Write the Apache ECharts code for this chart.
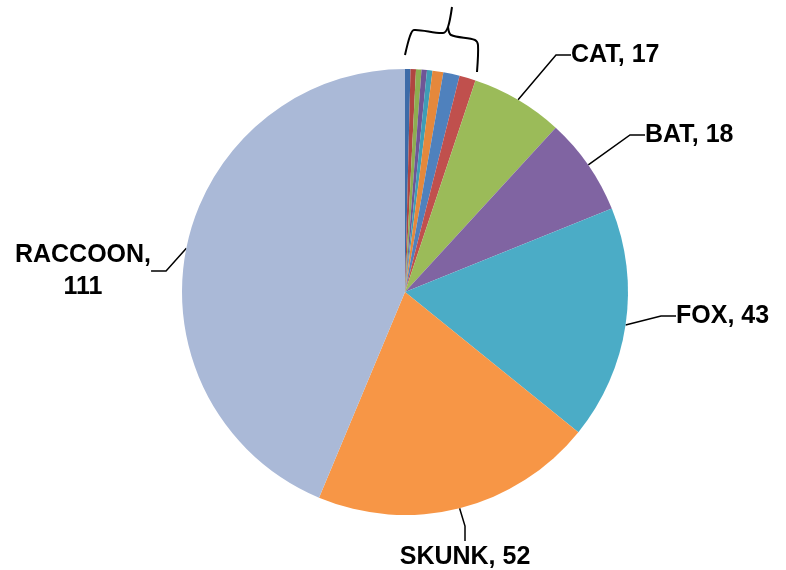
<!DOCTYPE html>
<html><head><meta charset="utf-8">
<script src="https://cdn.jsdelivr.net/npm/echarts@6/dist/echarts.min.js"></script>
<style>html,body{margin:0;padding:0;background:#fff}#c{width:786px;height:570px}</style>
</head><body><div id="c"></div>
<script>
const categories = ['Other 1','Other 2','Other 3','Other 4','Other 5','Other 6','Other 7','Other 8','CAT','BAT','FOX','SKUNK','RACCOON'];
const values = [1,1,1,1,1,2,3,3,17,18,43,52,111];
const colors = ['#3D6BA8','#B04540','#8DAE50','#6F5596','#3F9DB6','#E5883C','#4F81BD','#C0504D','#9BBB59','#8064A2','#4BACC6','#F79646','#AAB9D7'];
const labeled = ['CAT','BAT','FOX','SKUNK','RACCOON'];

const labelPos = {
  CAT: {x: 571, y: 55, align: 'left'},
  BAT: {x: 645, y: 135, align: 'left'},
  FOX: {x: 676, y: 316, align: 'left'},
  SKUNK: {x: 465, y: 557, align: 'center'},
  RACCOON: {x: 83, y: 271, align: 'center'}
};

const chart = echarts.init(document.getElementById('c'), null, {renderer: 'canvas'});
chart.setOption({
  animation: false,
  series: [{
    type: 'pie',
    center: [405, 292],
    radius: [0, 223],
    startAngle: 90,
    clockwise: true,
    data: categories.map((n, i) => ({
      name: n, value: values[i],
      itemStyle: {color: colors[i]},
      label: {show: labeled.includes(n)},
      labelLine: {show: labeled.includes(n)}
    })),
    label: {
      formatter: p => p.name === 'RACCOON' ? p.name + ',\n' + p.value : p.name + ', ' + p.value,
      fontFamily: 'Liberation Sans', fontWeight: 'bold', fontSize: 25, color: '#000', lineHeight: 32
    },
    labelLine: {lineStyle: {color: '#000', width: 1.5}, length: 20, length2: 15},
    labelLayout: function (p) {
      const pos = labelPos[categories[p.dataIndex]];
      if (!pos) return {};
      return {x: pos.x, y: pos.y, align: pos.align, verticalAlign: 'middle'};
    }
  }],
  graphic: [{
    type: 'polyline', silent: true,
    shape: {points: [[405,55],[410,36],[414,30],[443,33],[448,27],[452,7]], smooth: 0.3},
    style: {stroke: '#000', lineWidth: 2, fill: null}
  }, {
    type: 'polyline', silent: true,
    shape: {points: [[448,27],[451,35],[475,40],[478,45],[477,72]], smooth: 0.3},
    style: {stroke: '#000', lineWidth: 2, fill: null}
  }]
});
</script></body></html>
